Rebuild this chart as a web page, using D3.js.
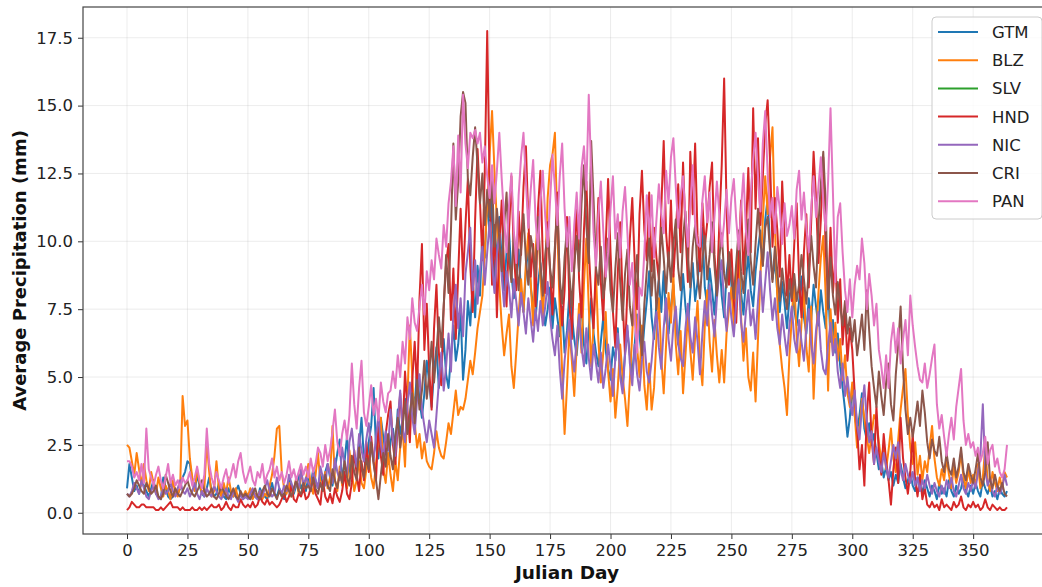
<!DOCTYPE html>
<html><head><meta charset="utf-8">
<script src="https://cdn.jsdelivr.net/npm/d3@7"></script>
<style>body{margin:0;background:#fff}svg{display:block}</style>
</head><body><svg id="c" width="1042" height="587"></svg>
<script>
const countries = ["GTM","BLZ","SLV","HND","NIC","CRI","PAN"];
const colors = ["#1f77b4","#ff7f0e","#2ca02c","#d62728","#9467bd","#8c564b","#e377c2"];
const xTicks = [0,25,50,75,100,125,150,175,200,225,250,275,300,325,350];
const yTicks = [0,2.5,5,7.5,10,12.5,15,17.5];
const xLabel = "Julian Day";
const yLabel = "Average Precipitation (mm)";

const gtm = [
0.9,1.8,1.3,0.8,1.0,0.7,1.2,1.0,0.8,0.6,0.9,1.2,0.7,0.6,0.5,1.3,0.9,0.6,0.5,0.6,0.8,0.7,0.9,1.3,1.5,
1.9,1.8,1.2,0.8,1.4,1.0,0.7,0.6,0.9,1.3,0.8,0.6,0.7,1.1,0.8,0.6,0.5,0.9,0.7,0.6,0.8,1.0,0.7,0.5,0.6,
0.7,0.5,0.8,0.6,0.5,0.9,0.7,0.6,0.5,0.8,1.1,0.7,0.6,0.9,0.7,0.5,0.8,1.2,0.9,0.7,1.0,1.4,0.9,1.1,0.8,
1.3,1.0,1.6,1.2,0.9,1.4,1.1,1.5,1.8,1.3,1.0,1.6,2.2,2.7,1.1,1.9,2.8,1.6,1.3,2.1,1.7,2.4,3.5,2.0,1.6,
2.6,3.2,4.6,2.4,2.0,3.5,2.8,2.2,1.8,2.6,3.1,2.4,3.8,2.9,3.4,4.2,3.0,3.6,4.5,3.9,5.3,4.1,3.5,4.4,5.6,
4.8,3.9,5.2,6.1,4.6,5.5,6.4,5.1,4.6,5.8,6.9,5.6,6.2,7.4,4.9,6.0,7.8,6.9,8.5,7.2,9.1,8.0,10.3,9.4,11.7,
10.2,11.5,8.6,9.8,10.9,9.3,8.2,9.6,10.4,8.8,7.9,8.5,9.7,8.1,7.4,8.9,9.8,8.3,7.6,7.1,8.4,9.2,7.8,6.9,7.5,
8.3,6.8,7.9,7.2,6.5,7.6,5.9,6.7,8.1,7.3,6.4,5.8,6.9,7.6,6.2,5.5,6.8,7.9,6.6,5.9,5.4,6.3,7.2,6.0,5.3,
4.9,6.1,5.6,6.8,5.2,4.6,5.9,6.7,5.8,5.1,6.2,7.3,6.5,5.7,6.9,7.8,8.9,7.2,6.4,7.7,8.6,7.4,8.9,7.1,6.6,
7.6,8.4,7.0,6.2,7.5,8.8,7.6,6.8,8.1,9.2,7.8,8.5,9.6,10.5,8.3,7.6,9.0,8.2,7.3,8.6,9.4,8.0,7.2,8.8,9.6,
8.4,7.5,8.9,9.8,8.1,7.3,8.6,9.5,8.2,7.6,8.9,9.7,10.4,9.1,10.8,11.6,9.8,8.6,9.3,8.1,7.4,8.5,7.7,6.8,7.9,
8.6,7.5,6.9,7.8,8.7,7.2,6.6,7.9,7.1,8.4,7.6,6.9,8.2,7.4,6.8,8.4,6.3,7.1,5.9,6.6,5.4,4.6,3.8,2.8,3.5,
4.7,3.6,3.0,3.6,4.4,3.1,2.7,3.3,2.5,2.9,2.2,1.6,1.9,1.3,1.7,1.2,1.5,1.0,1.4,1.1,1.8,1.3,0.9,1.2,1.5,
1.0,0.8,1.3,1.1,0.7,1.2,0.9,0.6,1.0,0.8,0.5,1.1,0.7,0.9,0.6,1.2,0.8,0.6,1.0,0.7,0.9,1.3,0.8,0.6,1.0,
0.7,1.1,0.8,0.6,1.2,0.9,0.7,1.0,0.6,0.8,0.5,0.9,0.7,0.6,0.8];

const blz = [
2.5,2.4,1.9,1.4,2.2,1.6,1.0,1.8,1.2,0.8,1.5,1.1,0.7,1.3,0.9,0.6,1.0,0.8,0.5,1.2,0.7,0.6,1.0,4.3,3.2,
3.4,2.0,1.3,0.8,1.6,1.1,0.7,0.9,2.6,1.5,0.6,0.8,1.9,0.9,0.6,1.1,0.7,1.3,0.8,0.6,0.9,0.5,0.7,0.6,0.8,
0.6,0.9,0.5,0.7,0.6,0.8,0.5,0.7,0.6,1.0,1.4,2.1,3.1,3.2,1.5,0.9,0.7,1.1,0.6,0.8,1.3,0.7,1.6,0.9,1.2,
1.8,1.0,0.7,1.4,2.2,1.1,0.8,1.5,0.9,1.3,3.2,1.2,0.8,1.7,1.0,1.4,0.9,2.3,1.5,0.8,1.2,1.9,1.1,0.9,1.6,
2.1,1.3,0.9,1.8,2.7,3.5,1.6,1.1,2.2,1.4,0.8,1.9,1.2,2.4,3.1,1.7,4.2,6.9,5.0,3.3,2.4,2.9,2.0,2.6,1.9,
1.7,1.6,2.2,3.0,2.4,2.1,2.0,2.6,3.3,2.9,3.7,4.5,3.6,3.9,3.8,4.2,4.9,5.6,5.1,5.9,6.8,7.4,8.0,9.6,11.4,
13.2,14.8,12.6,10.7,8.4,6.9,5.8,6.6,7.3,5.4,4.6,5.9,7.3,8.6,7.4,9.2,10.3,8.5,6.9,9.6,11.0,8.7,7.2,8.9,11.6,
12.8,13.2,14.0,10.5,7.4,5.2,2.9,4.7,6.8,5.6,4.3,6.1,7.7,5.9,8.4,10.1,7.6,5.4,6.9,8.8,6.3,4.8,5.9,7.4,5.2,
4.1,5.3,3.5,4.6,6.2,5.0,4.2,3.2,4.9,6.6,8.3,6.1,5.0,6.9,4.7,3.8,5.5,3.8,4.6,6.4,7.9,5.7,4.4,6.2,8.1,
7.0,8.8,6.2,5.1,6.7,4.4,5.8,7.3,6.0,4.9,6.5,7.8,5.6,4.7,6.9,8.2,6.3,5.2,7.1,5.8,4.8,6.0,4.8,6.6,7.5,
8.3,6.9,8.8,9.6,7.2,5.6,6.8,5.0,4.5,5.9,4.1,6.4,8.7,10.8,12.4,11.0,13.1,14.2,10.6,7.9,6.2,5.3,4.6,3.6,5.8,
7.2,8.6,6.5,5.4,7.0,8.3,6.1,5.2,7.6,4.2,6.3,8.1,9.4,10.2,8.0,4.5,7.5,5.9,7.0,5.6,6.4,4.9,5.8,4.4,3.9,
4.8,3.6,2.4,3.1,4.2,3.5,2.8,2.2,2.9,3.6,3.4,2.6,1.9,2.5,1.6,2.3,3.1,2.0,1.5,2.7,3.8,4.6,5.3,3.6,2.4,
1.8,2.6,1.4,2.1,1.2,1.9,1.5,2.4,3.2,2.0,1.3,1.0,1.6,1.2,2.0,1.4,0.9,1.7,1.1,1.5,2.2,1.3,0.9,1.6,1.1,
1.4,1.0,1.8,0.9,1.3,2.4,1.2,0.8,1.5,1.1,0.8,1.3,0.9,1.5,1.3];

const slv = [];

const hnd = [
0.1,0.2,0.4,0.3,0.2,0.2,0.3,0.3,0.2,0.2,0.2,0.2,0.1,0.1,0.2,0.1,0.2,0.3,0.4,0.2,0.2,0.2,0.1,0.2,0.1,
0.1,0.1,0.2,0.1,0.1,0.2,0.1,0.2,0.1,0.2,0.3,0.2,0.2,0.3,0.1,0.2,0.4,0.2,0.1,0.3,0.2,0.2,0.5,0.3,0.2,
0.3,0.2,0.4,0.2,0.3,0.6,0.4,0.3,0.5,0.3,0.4,0.3,0.2,0.3,0.5,0.7,0.4,0.6,1.0,0.5,0.4,0.7,0.6,0.9,0.5,
0.6,0.9,1.3,0.7,0.5,0.3,1.2,0.6,0.4,0.7,0.35,0.9,0.6,0.4,0.8,1.5,0.7,0.5,1.1,2.3,1.4,0.8,1.9,1.2,2.6,
1.5,2.8,1.9,1.2,3.3,2.1,1.4,2.9,3.6,4.1,2.5,1.8,3.2,4.4,3.0,5.2,3.8,2.6,4.9,6.3,4.5,7.9,9.9,6.0,7.7,
5.3,3.8,6.8,8.4,5.9,4.7,7.6,9.2,9.9,7.1,9.0,6.4,8.8,11.2,8.6,10.6,12.3,9.1,7.4,10.8,13.4,11.5,9.3,12.6,17.75,
12.1,8.4,10.6,7.2,9.8,11.5,8.9,7.6,10.3,12.4,9.6,8.2,11.1,9.5,12.0,13.5,10.8,8.7,9.9,7.6,11.2,12.6,9.4,8.1,10.7,
8.9,7.3,9.6,11.8,8.4,6.9,8.2,10.9,7.7,6.4,9.1,11.5,8.6,7.2,10.4,12.2,9.7,8.0,6.8,9.3,11.6,8.5,7.1,9.8,12.3,
9.6,7.4,6.1,8.8,10.7,7.9,5.8,8.3,10.1,11.6,9.2,7.5,11.0,12.6,10.4,9.3,11.8,8.9,10.5,9.4,8.6,11.2,13.7,10.3,9.1,
11.5,8.7,10.2,12.1,9.6,12.9,10.4,8.5,13.3,11.0,13.6,10.2,8.9,11.4,9.8,10.7,12.0,12.9,9.5,8.2,10.6,12.8,16.0,11.3,8.4,
9.7,7.8,7.0,9.4,11.5,8.8,10.3,12.7,9.6,14.9,11.2,13.8,10.6,12.4,14.3,15.2,12.9,9.8,11.6,10.4,8.7,12.2,10.1,8.0,9.5,
7.8,9.9,11.4,8.6,7.2,9.6,11.0,8.3,10.7,13.3,11.6,9.2,10.8,13.1,9.7,7.9,10.5,8.1,9.4,7.0,8.6,6.2,7.5,5.6,6.8,
6.0,4.4,3.1,1.6,2.5,1.0,3.6,4.8,2.7,1.8,3.9,2.2,1.4,2.9,1.9,1.2,0.3,1.6,2.4,1.1,3.5,2.0,1.3,0.7,1.5,
2.9,1.2,0.6,1.4,0.5,0.9,0.3,0.2,0.4,0.2,0.3,0.1,0.5,0.2,0.3,0.2,0.1,0.4,0.2,0.3,0.6,0.2,0.1,0.3,0.2,
0.4,0.2,0.3,0.1,0.2,0.5,0.2,0.1,0.3,0.2,0.1,0.2,0.1,0.1,0.2];

const nic = [
0.7,0.6,0.8,1.1,0.9,0.7,1.2,0.9,0.6,0.5,0.8,1.0,0.7,0.5,0.6,0.9,0.7,0.8,1.1,0.8,0.6,0.9,1.2,0.8,0.7,
0.9,0.6,0.8,1.1,0.7,0.5,0.8,0.6,0.9,0.7,0.6,1.0,0.8,0.6,0.5,0.7,0.9,0.6,0.5,0.8,0.6,0.4,0.7,0.5,0.6,
0.5,0.7,0.9,0.6,0.5,0.8,0.6,0.9,1.2,0.8,0.6,0.7,1.3,0.9,0.7,1.0,0.8,1.4,1.1,0.8,1.2,0.9,1.6,1.0,1.3,
1.1,0.8,1.5,1.2,0.9,1.7,1.3,1.0,1.8,1.4,1.1,2.0,1.5,1.2,2.4,1.8,1.4,2.6,3.1,2.2,1.7,2.9,2.3,1.9,2.7,
3.3,2.4,1.9,2.8,3.6,2.5,2.0,3.0,2.3,3.8,2.7,2.1,3.4,4.5,3.1,2.6,4.0,4.8,3.5,2.9,4.2,5.1,3.8,3.2,2.6,
3.4,2.9,2.4,3.6,4.8,5.9,4.5,5.4,6.6,5.2,7.4,8.4,6.8,7.9,6.5,8.8,9.6,10.5,8.2,9.3,7.7,8.9,9.8,8.4,9.6,
10.7,9.2,8.1,9.5,10.3,8.7,7.6,8.9,8.3,7.2,8.6,7.8,6.9,8.1,7.4,6.6,7.9,7.1,6.3,7.5,6.7,7.8,6.9,7.6,8.5,
7.2,6.4,5.8,6.9,5.3,4.2,5.6,6.5,7.1,5.9,5.2,6.4,7.3,6.1,5.4,6.8,5.7,4.9,6.2,5.5,4.8,5.9,4.6,5.3,6.2,
5.4,4.3,5.7,6.6,5.0,4.4,5.8,6.9,5.5,4.7,6.2,5.1,4.5,5.6,6.3,5.2,4.8,5.6,6.7,7.4,6.1,5.3,6.8,7.9,6.4,
5.6,6.9,7.6,6.2,5.7,5.4,6.8,7.7,6.5,5.9,7.2,6.3,5.1,6.6,7.8,6.9,8.4,7.3,6.5,7.9,8.8,9.3,7.6,6.7,8.1,
7.2,6.5,7.7,8.6,7.0,6.3,7.4,8.2,6.9,7.5,6.4,7.8,8.9,7.4,8.5,9.6,8.2,7.1,7.9,6.8,6.2,7.3,6.5,5.8,6.9,
7.6,6.4,5.9,7.1,6.3,5.6,6.8,7.5,6.2,5.5,6.7,7.4,6.0,5.3,5.1,6.2,7.0,5.8,6.4,5.2,4.6,5.5,4.3,5.0,4.1,
3.6,4.5,3.2,2.7,3.9,4.7,3.4,2.6,3.0,1.8,2.4,1.9,1.5,2.2,1.7,1.3,1.9,2.5,2.0,2.6,1.6,1.2,1.8,1.4,1.1,
1.5,1.0,1.3,0.8,1.2,0.9,1.4,1.0,0.7,1.1,0.8,0.6,1.0,0.7,1.2,0.9,1.3,0.8,0.6,1.0,1.4,0.9,0.7,1.1,0.8,
1.2,0.9,1.5,2.1,4.0,1.6,1.0,1.3,0.8,0.6,1.0,0.7,0.9,1.4,1.0];

const cri = [
0.7,0.6,0.7,0.9,1.2,1.0,0.8,0.7,1.1,0.9,0.7,0.8,1.0,0.6,0.5,0.7,1.4,1.1,0.8,0.6,0.9,0.7,0.6,0.8,1.0,
1.2,0.9,0.7,0.6,0.8,1.0,1.2,0.8,0.6,0.7,0.9,0.6,0.5,0.7,1.0,0.8,0.6,0.5,0.7,0.9,0.6,0.5,0.8,0.6,0.7,
0.6,0.5,0.7,0.9,0.6,0.5,0.8,1.0,0.7,0.6,0.9,0.7,0.5,0.8,0.6,0.7,1.0,0.8,0.6,0.9,1.2,0.8,0.7,1.1,0.9,
1.0,0.8,1.3,0.9,0.7,1.1,0.8,1.4,1.0,0.8,1.6,1.2,0.9,1.5,1.1,1.9,1.3,1.0,2.1,1.5,1.2,2.4,1.7,1.3,2.0,
1.6,2.6,1.8,1.2,0.5,1.4,2.2,1.7,2.9,2.1,1.6,2.8,3.5,2.4,3.2,4.1,2.9,3.6,4.4,3.3,4.9,3.8,4.5,5.6,4.2,
5.1,6.3,4.8,5.9,7.2,6.1,7.6,9.5,8.1,10.4,13.6,10.8,12.2,14.6,15.5,15.1,12.3,11.7,13.1,14.2,12.8,11.4,12.5,10.6,11.9,
10.9,12.3,9.8,11.2,10.1,8.9,10.6,11.8,9.4,8.5,10.3,9.1,8.2,9.7,11.0,9.3,8.4,10.2,9.6,8.7,10.9,9.2,8.0,9.5,10.4,
9.0,8.3,9.8,11.3,8.6,7.7,9.4,10.5,8.8,7.6,9.1,10.2,8.9,11.4,12.8,10.6,9.2,13.7,11.5,9.0,8.4,9.8,7.9,8.7,10.1,
8.2,7.4,9.0,10.3,8.5,7.1,8.8,9.7,7.6,6.9,8.4,9.5,7.3,5.8,7.7,8.9,10.1,8.0,9.3,7.5,8.6,10.5,9.4,8.1,9.6,
8.5,9.9,10.8,9.0,8.2,10.1,11.1,9.4,8.3,9.8,10.6,8.8,7.9,9.3,10.2,8.6,9.5,10.7,9.1,8.0,9.4,10.3,8.8,8.3,9.6,
8.7,7.9,9.2,10.4,8.9,8.1,9.5,10.8,9.3,8.4,9.9,11.2,10.0,9.1,10.5,10.9,9.6,8.5,9.8,8.9,7.8,9.0,8.2,7.5,8.6,
7.9,8.8,7.8,8.4,9.5,8.6,7.7,8.9,10.2,9.1,8.3,10.6,12.1,13.3,11.4,7.5,9.4,8.0,7.3,8.5,7.6,6.9,7.8,6.6,7.2,
6.3,7.1,5.8,6.5,7.3,6.0,8.2,6.7,5.4,4.6,3.9,5.2,4.3,3.6,4.8,5.5,4.0,3.4,5.1,6.2,7.6,5.3,3.8,2.9,3.5,
2.8,3.4,4.1,3.2,4.5,3.7,2.6,2.0,2.7,2.3,2.1,2.8,1.9,1.5,2.2,1.6,1.4,2.0,1.3,1.7,2.4,1.5,1.2,1.8,1.4,
1.1,1.6,2.2,1.3,1.0,1.5,2.6,1.2,0.9,1.4,1.0,0.8,1.1,0.7,0.6];

const pan = [
1.9,1.9,1.7,1.3,1.5,1.2,1.8,1.1,3.1,1.6,1.3,1.0,1.4,1.7,1.2,0.9,1.3,1.8,1.1,1.4,1.0,1.2,0.9,1.3,1.1,
1.2,1.5,1.0,1.3,1.7,1.2,0.9,1.4,3.1,1.8,1.3,1.0,1.5,1.2,0.9,1.3,1.6,1.1,1.4,1.8,1.3,1.9,2.2,1.5,1.1,
1.4,1.7,1.2,1.0,1.5,1.3,1.8,1.1,1.4,1.6,2.0,1.3,1.7,1.2,1.5,1.1,1.4,1.9,1.3,1.6,1.2,1.5,1.8,1.4,1.7,
1.3,2.0,1.5,1.8,2.4,2.2,1.7,2.5,1.9,2.3,3.0,3.8,2.6,2.1,2.9,3.4,2.7,3.6,5.5,4.0,3.1,4.6,5.6,3.7,3.2,
3.9,4.7,3.6,4.2,3.4,4.8,4.1,3.7,4.4,4.5,5.2,4.6,5.8,5.0,6.3,5.5,7.2,6.4,7.9,7.0,6.7,7.6,8.4,7.3,8.9,
8.2,9.3,8.6,10.1,9.5,9.0,10.6,9.8,11.4,12.2,13.5,11.3,13.9,11.8,15.4,13.6,12.7,14.0,13.8,14.1,13.6,14.0,12.9,13.5,12.4,
11.6,12.8,11.4,12.6,14.0,12.3,10.8,9.6,11.3,12.5,10.4,9.2,11.7,13.1,14.0,12.2,10.5,11.9,13.0,10.8,9.7,11.4,12.6,10.9,9.8,
11.5,13.2,12.0,10.6,12.4,13.6,11.2,9.8,10.9,8.9,10.6,11.8,10.1,12.7,13.5,11.9,15.4,12.6,10.3,9.1,11.0,12.2,10.4,8.7,9.6,
11.2,12.4,10.1,11.0,9.4,11.1,12.0,10.3,8.4,9.2,7.1,5.9,8.3,8.0,9.6,11.7,10.2,11.7,9.4,10.8,12.1,11.0,10.3,12.6,11.4,
13.1,13.8,12.0,10.5,11.7,12.4,10.9,9.8,11.3,12.8,10.6,9.9,9.8,11.5,12.4,10.7,11.8,9.6,10.9,12.2,11.0,9.8,10.7,11.9,10.3,
11.6,12.3,10.8,9.7,11.2,12.5,10.4,9.5,11.8,13.0,14.0,12.4,11.1,13.6,14.8,12.5,10.9,11.6,10.3,12.0,11.2,9.9,11.4,10.2,10.6,
11.3,10.1,11.9,12.6,10.8,11.8,10.5,9.6,11.2,12.4,10.9,12.0,13.1,11.5,10.4,12.2,14.9,11.8,8.5,10.9,11.4,9.6,8.2,7.4,8.6,
7.2,8.4,9.1,8.6,10.1,9.2,7.5,8.8,8.0,6.9,7.7,6.0,5.4,4.6,5.8,4.6,6.3,7.0,5.9,6.8,5.5,6.4,7.1,5.8,8.0,
6.9,6.1,5.4,4.9,4.8,5.5,4.6,5.1,5.7,6.2,4.0,3.1,3.6,2.8,2.1,2.9,3.5,2.7,3.9,4.6,5.3,3.4,2.5,2.9,2.4,
2.6,2.1,2.4,1.9,2.2,2.8,1.8,2.3,2.5,1.7,2.0,1.5,1.3,1.6,2.5];

const seriesValues = [gtm, blz, slv, hnd, nic, cri, pan];

const svg = d3.select("#c");
const W = 1042, H = 587;
const m = {left: 83, top: 7, right: 1051, bottom: 534};
svg.append("rect").attr("width", W).attr("height", H).attr("fill", "#fff");

const maxLen = d3.max(seriesValues, s => s.length);
const allVals = seriesValues.flat();
const yMin = d3.min(allVals), yMax = d3.max(allVals);
const xPad = (maxLen - 1) * 0.05, yPad = (yMax - yMin) * 0.05;
const x = d3.scaleLinear().domain([0 - xPad, maxLen - 1 + xPad]).range([m.left, m.right]);
const y = d3.scaleLinear().domain([yMin - yPad, yMax + yPad]).range([m.bottom, m.top]);

// grid
const grid = svg.append("g");
grid.selectAll(".gx").data(xTicks).enter().append("line")
  .attr("x1", d => x(d)).attr("x2", d => x(d)).attr("y1", m.top).attr("y2", m.bottom)
  .attr("stroke", "#b0b0b0").attr("stroke-opacity", 0.3).attr("stroke-width", 0.8);
grid.selectAll(".gy").data(yTicks).enter().append("line")
  .attr("x1", m.left).attr("x2", m.right).attr("y1", d => y(d)).attr("y2", d => y(d))
  .attr("stroke", "#b0b0b0").attr("stroke-opacity", 0.3).attr("stroke-width", 0.8);

// lines
svg.append("clipPath").attr("id", "clip").append("rect")
  .attr("x", m.left).attr("y", m.top).attr("width", m.right - m.left).attr("height", m.bottom - m.top);
const line = d3.line().x((d, i) => x(i)).y(d => y(d));
const lg = svg.append("g").attr("clip-path", "url(#clip)");
seriesValues.forEach((s, k) => {
  if (!s.length) return;
  lg.append("path").datum(s).attr("d", line).attr("fill", "none")
    .attr("stroke", colors[k]).attr("stroke-width", 2).attr("stroke-linejoin", "round");
});

// axes
const fontTick = "'DejaVu Sans', sans-serif";
const xAxis = d3.axisBottom(x).tickValues(xTicks).tickFormat(d3.format("d")).tickSize(5).tickPadding(5);
const yAxis = d3.axisLeft(y).tickValues(yTicks).tickFormat(d3.format(".1f")).tickSize(5).tickPadding(5);
const gx = svg.append("g").attr("transform", `translate(0,${m.bottom})`).call(xAxis);
const gy = svg.append("g").attr("transform", `translate(${m.left},0)`).call(yAxis);
[gx, gy].forEach(g => {
  g.select(".domain").remove();
  g.selectAll(".tick line").attr("stroke", "#333").attr("stroke-width", 1);
  g.selectAll(".tick text").attr("font-family", fontTick).attr("font-size", 16.5).attr("fill", "#222");
});

// frame
svg.append("rect").attr("x", m.left).attr("y", m.top).attr("width", m.right - m.left).attr("height", m.bottom - m.top)
  .attr("fill", "none").attr("stroke", "#444").attr("stroke-width", 1.2);

// labels
svg.append("text").attr("x", (m.left + m.right) / 2).attr("y", 579).attr("text-anchor", "middle")
  .attr("font-family", fontTick).attr("font-weight", "bold").attr("font-size", 18.5).attr("fill", "#111").text(xLabel);
svg.append("text").attr("transform", `translate(26,${(m.top + m.bottom) / 2}) rotate(-90)`).attr("text-anchor", "middle")
  .attr("font-family", fontTick).attr("font-weight", "bold").attr("font-size", 18).attr("fill", "#111").text(yLabel);

// legend
const leg = svg.append("g");
leg.append("rect").attr("x", 932).attr("y", 17).attr("width", 110).attr("height", 202).attr("rx", 4)
  .attr("fill", "#fff").attr("fill-opacity", 0.8).attr("stroke", "#ccc").attr("stroke-width", 1);
countries.forEach((c, i) => {
  const yy = 32 + i * 28.2;
  leg.append("line").attr("x1", 938).attr("x2", 978).attr("y1", yy).attr("y2", yy)
    .attr("stroke", colors[i]).attr("stroke-width", 2);
  leg.append("text").attr("x", 992).attr("y", yy).attr("dy", "0.36em").attr("font-family", fontTick)
    .attr("font-size", 16.5).attr("fill", "#222").text(c);
});
</script></body></html>
